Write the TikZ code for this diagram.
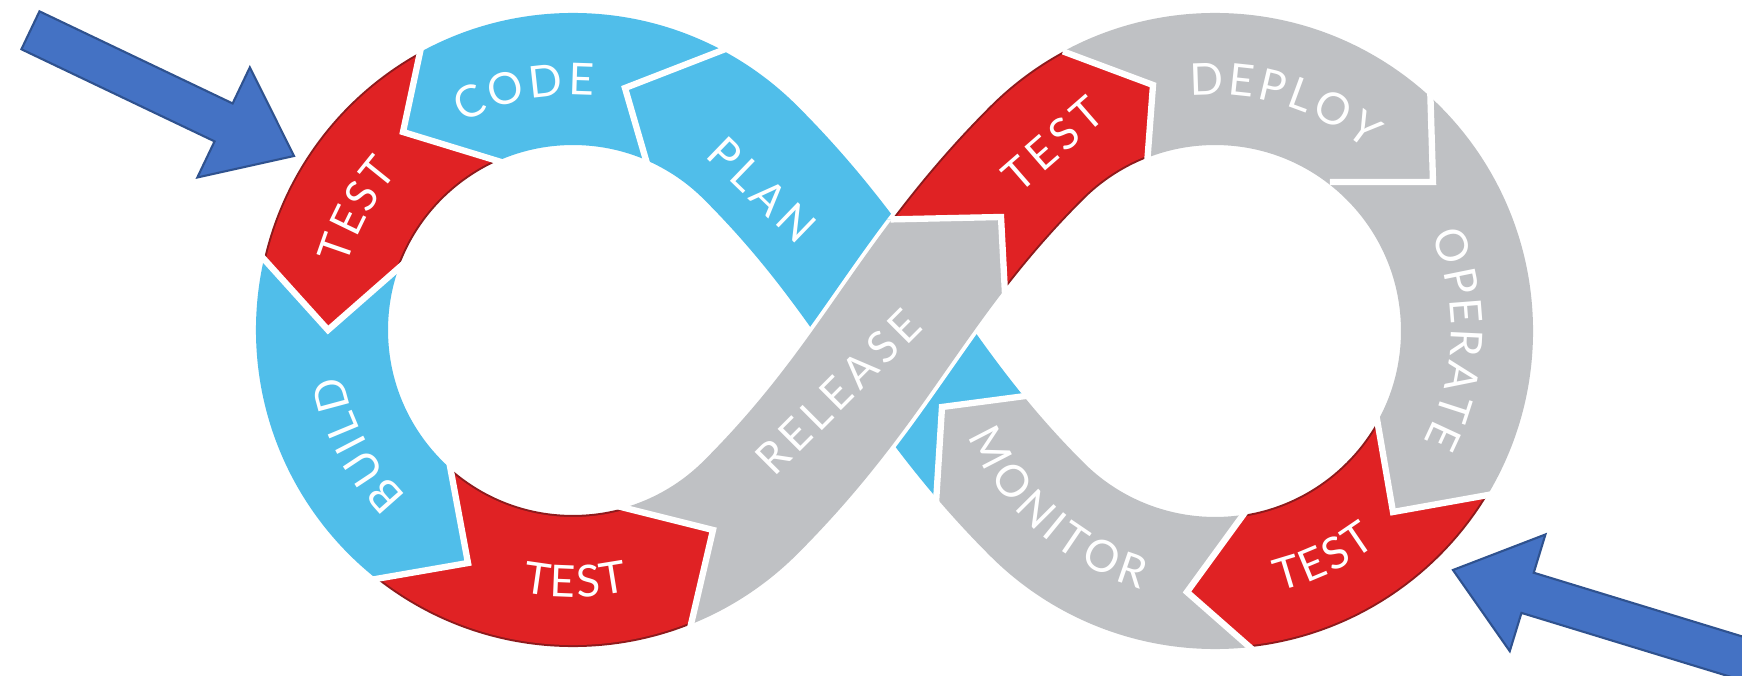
\documentclass[tikz,border=0pt]{standalone}
\usepackage{fontspec}
\usetikzlibrary{calc,decorations.text}
\newfontfamily\labfont{Lato}
\newfontfamily\spacedfont{Lato}[LetterSpace=12]
\definecolor{devblue}{HTML}{50BEEA}
\definecolor{devred}{HTML}{E02224}
\definecolor{devgrey}{HTML}{BFC1C4}
\definecolor{devdark}{HTML}{8E1A1C}
\definecolor{arrowfill}{HTML}{4472C4}
\definecolor{arrowline}{HTML}{2F528F}
\tikzset{
  band/.style={line width=1.32cm},
  blueseg/.style={band, draw=devblue},
  greyseg/.style={band, draw=devgrey},
  redseg/.style={band, draw=devred, line width=1.28cm, preaction={draw=devdark, line width=1.32cm}},
  greyover/.style={preaction={draw=white, line width=1.40cm}, greyseg},
  redover/.style={preaction={draw=white, line width=1.40cm}, redseg},
  sep/.style={draw=white, line width=1.8pt},
  arclabel/.style={decorate, decoration={text along path, text align={fit to path}, text color=white,
      text={|\labfont\fontsize{12.5}{12.5}\selectfont|#1}}},
  steplabel/.style={text=white, inner sep=0pt, font=\spacedfont\fontsize{12.5}{12.5}\selectfont},
  bigarrow/.style={fill=arrowfill, draw=arrowline, line width=0.6pt}
}
\begin{document}
\begin{tikzpicture}[x=0.01cm, y=0.01cm]
  \useasboundingbox (0,0) rectangle (1742,675);
  \clip (0,0) rectangle (1742,675);
  \fill[white] (0,0) rectangle (1742,675);
  % loop centres and the ends of the two crossing strands
  \coordinate (C1) at (573,345);
  \coordinate (C2) at (1215,344);
  \coordinate (lt) at ($(C1)+(45:251)$);
  \coordinate (lb) at ($(C1)+(-45:251)$);
  \coordinate (rt) at ($(C2)+(135:252)$);
  \coordinate (rb) at ($(C2)+(-135:252)$);
  \def\leftring{(C1) circle[radius=251]}
  \def\rightring{(C2) circle[radius=252]}
  \def\overstrand{($(C1)+(-85:251)$) arc[start angle=-85, end angle=-45, radius=251]
    .. controls +(127,127) and +(-127,-127) .. (rt) arc[start angle=135, end angle=85, radius=252]}
  \def\understrand{($(C2)+(-60:252)$) arc[start angle=-60, end angle=-135, radius=252]
    .. controls +(-127,127) and +(127,-127) .. (lt) arc[start angle=45, end angle=95, radius=251]}
  % arrow heads between the steps: edge point, tip, edge point
  \foreach \i/\u/\m/\v in {
      1/{710,620}/{625,587}/{648,508},
      2/{422,632}/{403,543}/{488,517},
      3/{263,417}/{328,345}/{393,402},
      4/{370,95}/{468,112}/{452,198},
      5/{692,55}/{713,145}/{625,167},
      6/{1005,381}/{1001,458}/{909,456},
      7/{1147,510}/{1153,590}/{1078,618},
      8/{1347,493}/{1433,493}/{1430,592},
      9/{1378,250}/{1393,163}/{1488,180},
      10/{1238,153}/{1187,83}/{1253,25},
      11/{1033,280}/{942,268}/{937,188}}{
    \coordinate (b\i-m) at (\m);
    \coordinate (b\i-p) at ($(b\i-m)!2.2!(\u)$);
    \coordinate (b\i-q) at ($(b\i-m)!2.2!(\v)$);
    \coordinate (b\i-s) at ($(b\i-m)!1.2!(\u)$);
    \coordinate (b\i-t) at ($(b\i-m)!1.2!(\v)$);
  }
  % the steps, release and its test last (they lie on top)
  \foreach \t/\h/\x/\sty/\strand in {
      11/1/{800,255}/blueseg/\understrand,
      1/2/{573,345}/blueseg/\leftring,
      2/3/{573,345}/redseg/\leftring,
      3/4/{573,345}/blueseg/\leftring,
      4/5/{573,345}/redseg/\leftring,
      7/8/{1200,715}/greyseg/\rightring,
      8/9/{1620,595}/greyseg/\rightring,
      9/10/{1500,25}/redseg/\rightring,
      10/11/{1130,-35}/greyseg/\understrand,
      5/6/{573,345}/greyover/\overstrand,
      6/7/{850,615}/redover/\overstrand}{
    \begin{scope}
      \clip (b\t-p) -- (b\t-m) -- (b\t-q) -- (\x) -- (b\h-q) -- (b\h-m) -- (b\h-p) -- cycle;
      \draw[\sty] \strand;
    \end{scope}
  }
  \foreach \i in {1,...,11}
    \draw[sep] (b\i-s) -- (b\i-m) -- (b\i-t);
  % labels
  \path[arclabel=CODE] ($(C1)+(118:235)$) arc[start angle=118, end angle=85, radius=235];
  \path[arclabel=TEST] ($(C1)+(164:235)$) arc[start angle=164, end angle=138, radius=235];
  \path[arclabel=BUILD] ($(C1)+(225:235)$) arc[start angle=225, end angle=191, radius=235];
  \path[arclabel=TEST] ($(C1)+(-101:267)$) arc[start angle=-101, end angle=-78, radius=267];
  \path[arclabel=DEPLOY] ($(C2)+(96:236)$) arc[start angle=96, end angle=50, radius=236];
  \path[arclabel=OPERATE] ($(C2)+(24:236)$) arc[start angle=24, end angle=-28, radius=236];
  \path[arclabel=TEST] ($(C2)+(-76:268)$) arc[start angle=-76, end angle=-53, radius=268];
  \path[arclabel=MONITOR] ($(C2)+(-157:268)$) arc[start angle=-157, end angle=-106, radius=268];
  \node[steplabel, rotate=-44] (plan) at (762,485) {PLAN};
  \node[steplabel, rotate=45] (release) at (838,283) {RELEASE};
  \node[steplabel, rotate=41] (test3) at (1053,531) {TEST};
  % the two pointers
  \begin{scope}[shift={(294,519)}, rotate=-25.5]
    \draw[bigarrow] (0,0) -- (-78,61) -- (-78,21) -- (-292,21) -- (-292,-21) -- (-78,-21) -- (-78,-61) -- cycle;
  \end{scope}
  \begin{scope}[shift={(1453,105)}, rotate=163]
    \draw[bigarrow] (0,0) -- (-78,61) -- (-78,21) -- (-340,21) -- (-340,-21) -- (-78,-21) -- (-78,-61) -- cycle;
  \end{scope}
\end{tikzpicture}
\end{document}
